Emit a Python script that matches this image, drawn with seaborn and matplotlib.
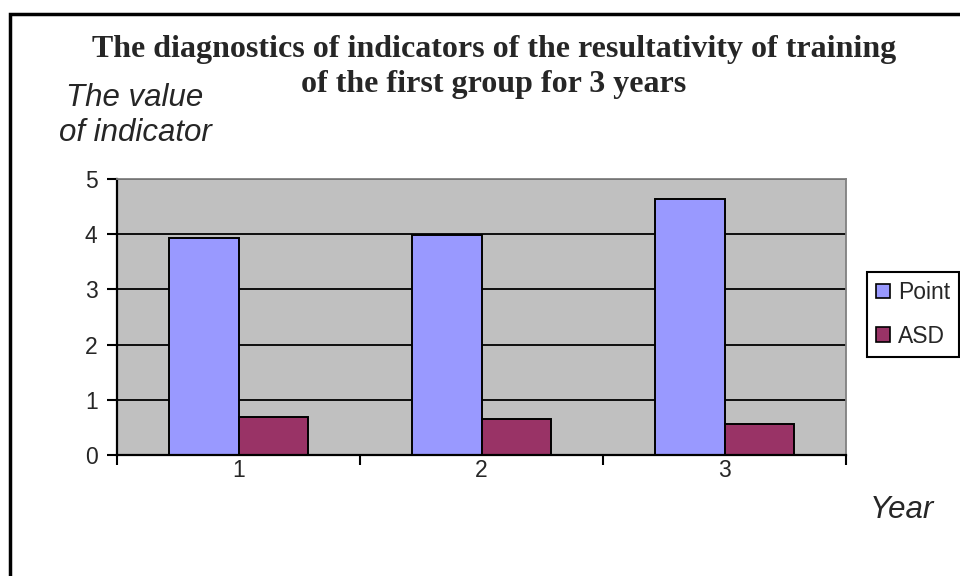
import matplotlib
matplotlib.use("Agg")
import matplotlib.pyplot as plt
from matplotlib.patches import Rectangle
import pandas as pd
import seaborn as sns

# Data
years = ["1", "2", "3"]
point = [3.94, 3.99, 4.64]
asd = [0.68, 0.65, 0.57]
series_names = ["Point", "ASD"]
series_colors = ["#9999FF", "#993366"]
y_ticks = [0, 1, 2, 3, 4, 5]

title_lines = [
    "The diagnostics of indicators of the resultativity of training",
    "of the first group for 3 years",
]
ylabel_lines = ["The value", "of indicator"]
xlabel = "Year"

df = pd.DataFrame({
    "Year": years * 2,
    "value": point + asd,
    "series": [series_names[0]] * len(years) + [series_names[1]] * len(years),
})

sns.set_style("white")
plt.rcParams["font.family"] = ["Liberation Sans", "DejaVu Sans"]

W, H = 960, 576
fig = plt.figure(figsize=(W / 100, H / 100), dpi=100)
fig.patch.set_facecolor("white")

# Plot area (pixel box converted to figure fractions)
L, R, T, B = 117, 846, 179, 455
ax = fig.add_axes([L / W, 1 - B / H, (R - L) / W, (B - T) / H])
ax.set_facecolor("#C0C0C0")
ax.set_axisbelow(True)
ax.yaxis.grid(True, color="black", lw=1.3)
ax.xaxis.grid(False)

sns.barplot(
    data=df, x="Year", y="value", hue="series",
    hue_order=series_names, palette=series_colors, saturation=1,
    width=0.576, edgecolor="black", linewidth=1.4, errorbar=None, ax=ax,
)

ax.set_xlim(-0.5, len(years) - 0.5)
ax.set_ylim(0, 5)
ax.set_yticks(y_ticks)
ax.set_xlabel("")
ax.set_ylabel("")

# Category labels without ticks; ticks sit on category boundaries
ax.tick_params(axis="x", which="major", length=0, pad=3, labelsize=16.5, bottom=True)
ax.set_xticks([i - 0.5 for i in range(len(years) + 1)], minor=True)
ax.tick_params(axis="x", which="minor", length=7, width=1.5, direction="out",
               color="black", bottom=True)
ax.tick_params(axis="y", length=7, width=1.5, direction="out", color="black",
               labelsize=16.5, pad=7, left=True)

for side in ("left", "bottom"):
    ax.spines[side].set_color("black")
    ax.spines[side].set_linewidth(1.6)
for side in ("top", "right"):
    ax.spines[side].set_color("#808080")
    ax.spines[side].set_linewidth(1.3)

# Legend to the right of the plot area
sns.move_legend(
    ax, loc="upper left", bbox_to_anchor=(867 / W, 1 - 272 / H),
    bbox_transform=fig.transFigure, title=None, frameon=True, fancybox=False,
    edgecolor="black", fontsize=16.5, handlelength=0.6, handleheight=0.6,
    handletextpad=0.35, labelspacing=0.9, borderpad=0.4, borderaxespad=0,
)
leg = ax.get_legend()
leg.get_frame().set_linewidth(1.5)
leg.get_frame().set_alpha(1)
for h in leg.legend_handles:
    h.set_edgecolor("black")
    h.set_linewidth(1.2)

# Title
fig.text(494 / W, 1 - 57 / H, title_lines[0], ha="center", va="baseline",
         family=["Liberation Serif"], weight="bold", size=23)
fig.text(494 / W, 1 - 92 / H, title_lines[1], ha="center", va="baseline",
         family=["Liberation Serif"], weight="bold", size=23)

# Axis captions
fig.text(135 / W, 1 - 106 / H, ylabel_lines[0], ha="center", va="baseline",
         style="italic", size=22.5)
fig.text(135 / W, 1 - 141 / H, ylabel_lines[1], ha="center", va="baseline",
         style="italic", size=22.5)
fig.text(902 / W, 1 - 518 / H, xlabel, ha="center", va="baseline",
         style="italic", size=22.5)

# Chart frame
fig.add_artist(Rectangle((10 / W, -0.05), 1.2, 1 - 14 / H + 0.05,
                         transform=fig.transFigure, fill=False,
                         lw=2.5, ec="black"))

fig.savefig("out.png", dpi=100)
